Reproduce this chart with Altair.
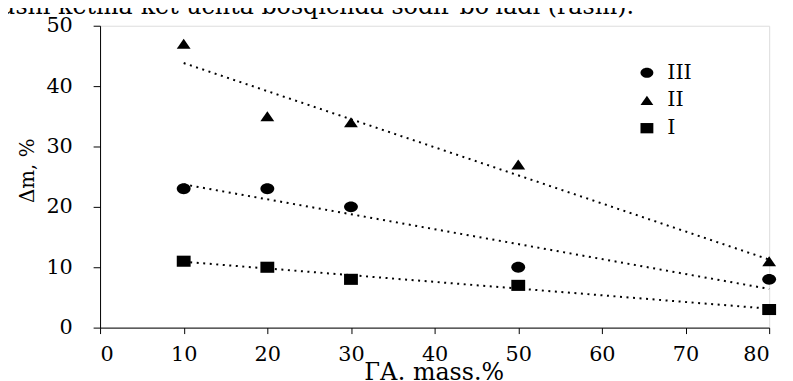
import altair as alt
import pandas as pd

# ---- data ----
x_vals = [10, 20, 30, 50, 80]
series_I = [11, 10, 8, 7, 3]
series_II = [47, 35, 34, 27, 11]
series_III = [23, 23, 20, 10, 8]
series_names = ["III", "II", "I"]
x_ticks = [0, 10, 20, 30, 40, 50, 60, 70, 80]
y_ticks = [0, 10, 20, 30, 40, 50]
top_text = "ushi ketma-ket uchta bosqichda sodir bo'ladi (rasm)."

rows = []
for name, vals in [("I", series_I), ("II", series_II), ("III", series_III)]:
    for xv, yv in zip(x_vals, vals):
        rows.append({"x": xv, "y": yv, "series": name})
df = pd.DataFrame(rows)

FONT = "'DejaVu Serif', 'Liberation Serif', serif"

# custom marker shapes (slightly wider than tall, as in the reference)
shape_paths = [
    "M-1,0 A1,0.78 0 1,1 1,0 A1,0.78 0 1,1 -1,0 Z",  # III ellipse
    "M0,-0.72 L1,0.72 L-1,0.72 Z",                    # II triangle
    "M-1,-0.8 L1,-0.8 L1,0.8 L-1,0.8 Z",              # I square
]

x_enc = alt.X(
    "x:Q",
    scale=alt.Scale(domain=[0, 80], nice=False),
    axis=alt.Axis(
        values=x_ticks, grid=False, tickSize=6, labelPadding=27,
        labelBaseline="alphabetic", labelFontSize=21, labelFont=FONT,
        labelColor="black", domainColor="black", tickColor="black",
        title="ГА. mass.%", titleFont=FONT, titleFontSize=24,
        titleFontWeight="normal", titleColor="black",
        titleX=337, titleY=52, titleBaseline="alphabetic",
    ),
)
y_enc = alt.Y(
    "y:Q",
    scale=alt.Scale(domain=[0, 50], nice=False),
    axis=alt.Axis(
        values=y_ticks, grid=False, tickSize=7, labelPadding=21,
        labelFontSize=21, labelFont=FONT, labelColor="black",
        domainColor="black", tickColor="black",
        title="Δm, %", titleFont=FONT, titleFontSize=20,
        titleFontWeight="normal", titleColor="black",
        titleAngle=270, titleX=-67, titleY=146,
        titleBaseline="alphabetic", titleAlign="center",
    ),
)

base = alt.Chart(df)

lines = base.transform_regression(
    "x", "y", groupby=["series"]
).mark_line(
    color="black", strokeWidth=2, strokeDash=[2, 4.6]
).encode(x=x_enc, y=y_enc, detail="series:N")

points = base.mark_point(
    filled=True, color="black", opacity=1, size=196
).encode(
    x=x_enc,
    y=y_enc,
    shape=alt.Shape(
        "series:N",
        scale=alt.Scale(domain=series_names, range=shape_paths),
        legend=alt.Legend(
            title=None, orient="none", legendX=542, legendY=37,
            symbolSize=169, symbolFillColor="black", symbolStrokeWidth=0,
            labelFont=FONT, labelFontSize=21, labelColor="black",
            labelOffset=10, rowPadding=6, padding=0,
        ),
    ),
)

header = alt.Chart(pd.DataFrame({"t": [top_text]})).mark_text(
    align="left", baseline="alphabetic", font=FONT, fontSize=24, color="black"
).encode(text="t:N", x=alt.value(-101), y=alt.value(-12))

chart = alt.layer(lines, points, header).properties(
    width=676,
    height=305,
    autosize=alt.AutoSizeParams(type="none"),
    padding={"left": 93, "top": 16, "right": 16, "bottom": 52},
).configure_view(stroke=None).configure(background="white", font=FONT)

chart.save("out.html", embed_options={"renderer": "svg", "actions": False})
